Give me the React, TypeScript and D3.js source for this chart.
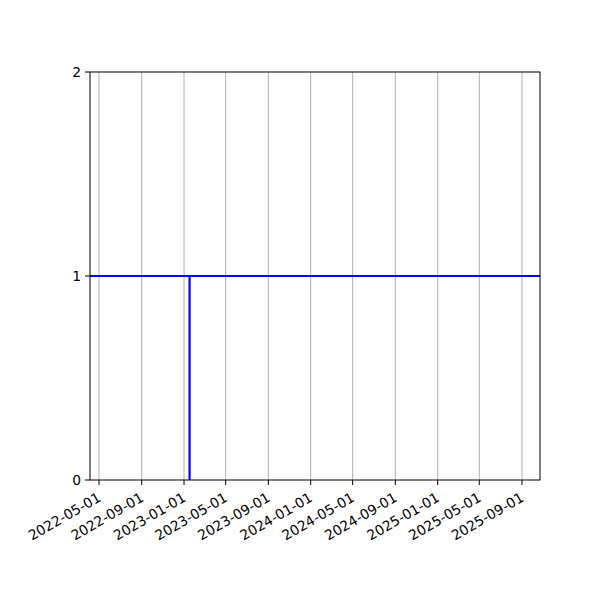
import React, { useRef, useEffect } from "react";
import * as d3 from "d3";

// x range of the axes and the step of the series
const domainDates = ["2022-04-05", "2025-10-23"];
const tickDates = [
  "2022-05-01", "2022-09-01", "2023-01-01", "2023-05-01", "2023-09-01",
  "2024-01-01", "2024-05-01", "2024-09-01", "2025-01-01", "2025-05-01",
  "2025-09-01",
];
const yTicks = [0, 1, 2];
// horizontal level across the whole range, vertical drop at the step date
const stepDate = "2023-01-17";
const levelValue = 1;
const baseValue = 0;

const App: React.FC = () => {
  const svgRef = useRef<SVGSVGElement | null>(null);

  useEffect(() => {
    const svg = d3.select(svgRef.current);
    svg.selectAll("*").remove();

    const W = 600;
    const H = 600;
    const margin = { top: 72, right: 60, bottom: 120, left: 90 };
    const width = W - margin.left - margin.right;
    const height = H - margin.top - margin.bottom;
    const font = "'DejaVu Sans', sans-serif";
    const fs = 13.9;

    svg.attr("width", W).attr("height", H);
    svg.append("rect").attr("width", W).attr("height", H).attr("fill", "#fff");

    const parse = d3.utcParse("%Y-%m-%d");
    const x = d3
      .scaleUtc()
      .domain(domainDates.map((d) => parse(d) as Date))
      .range([0, width]);
    const y = d3.scaleLinear().domain([0, 2]).range([height, 0]);

    const g = svg
      .append("g")
      .attr("transform", `translate(${margin.left},${margin.top})`);

    // vertical grid
    g.selectAll(".grid")
      .data(tickDates)
      .enter()
      .append("line")
      .attr("x1", (d) => x(parse(d) as Date))
      .attr("x2", (d) => x(parse(d) as Date))
      .attr("y1", 0)
      .attr("y2", height)
      .attr("stroke", "#b0b0b0")
      .attr("stroke-width", 1);

    // series
    const line = d3
      .line<[Date, number]>()
      .x((d) => x(d[0]))
      .y((d) => y(d[1]));
    const [d0, d1] = domainDates.map((d) => parse(d) as Date);
    const sd = parse(stepDate) as Date;
    g.append("path")
      .attr("d", line([[d0, levelValue], [d1, levelValue]]))
      .attr("fill", "none")
      .attr("stroke", "#0000ff")
      .attr("stroke-width", 2.2);
    g.append("path")
      .attr("d", line([[sd, baseValue], [sd, levelValue]]))
      .attr("fill", "none")
      .attr("stroke", "#0000ff")
      .attr("stroke-width", 2.2);

    // frame
    g.append("rect")
      .attr("width", width)
      .attr("height", height)
      .attr("fill", "none")
      .attr("stroke", "#000")
      .attr("stroke-width", 1);

    // x ticks
    const xt = g
      .selectAll(".xt")
      .data(tickDates)
      .enter()
      .append("g")
      .attr("transform", (d) => `translate(${x(parse(d) as Date)},${height})`);
    xt.append("line").attr("y2", 5).attr("stroke", "#000");
    xt.append("text")
      .attr("transform", "translate(-2,12) rotate(-30)")
      .attr("text-anchor", "end")
      .attr("dy", "0.7em")
      .attr("font-family", font)
      .attr("font-size", fs)
      .text((d) => d);

    // y ticks
    const yt = g
      .selectAll(".yt")
      .data(yTicks)
      .enter()
      .append("g")
      .attr("transform", (d) => `translate(0,${y(d)})`);
    yt.append("line").attr("x2", -5).attr("stroke", "#000");
    yt.append("text")
      .attr("x", -9)
      .attr("dy", "0.35em")
      .attr("text-anchor", "end")
      .attr("font-family", font)
      .attr("font-size", fs)
      .text((d) => String(d));
  }, []);

  return <svg ref={svgRef} style={{ display: "block", margin: "-8px" }} />;
};

export default App;
